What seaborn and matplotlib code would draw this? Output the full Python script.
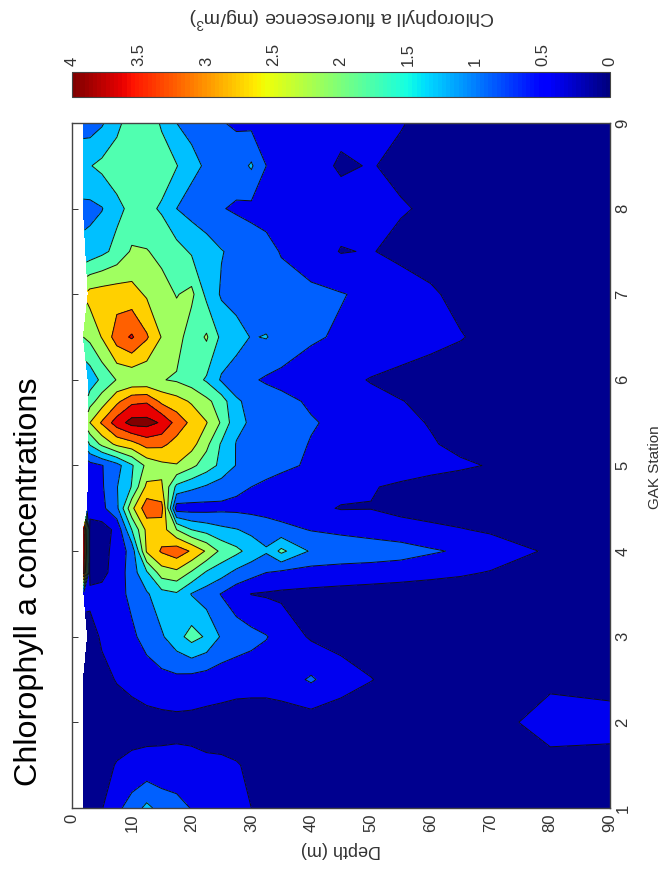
import numpy as np
import matplotlib
matplotlib.use("Agg")
import matplotlib.pyplot as plt
import seaborn as sns
from matplotlib.cm import ScalarMappable
from matplotlib.colors import BoundaryNorm, ListedColormap, Normalize

sns.set_style("white")
plt.rcParams['font.family'] = ['Liberation Sans', 'DejaVu Sans']
plt.rcParams['mathtext.default'] = 'regular'

# Data
stations = [1, 1.5, 2, 2.5, 3, 3.5, 3.75, 4, 4.25, 4.5, 4.75, 5, 5.25, 5.5, 5.75, 6, 6.5, 7, 7.5, 8, 8.5, 9]
depths = [2, 3, 5, 7.5, 10, 12.5, 15, 17.5, 20, 22.5, 25, 27.5, 30, 32.5, 35, 40, 45, 50, 55, 60, 65, 70, 80, 90]
# first sampled depth of each station (the white strip under the surface)
surface_depth = [1.9, 1.9, 1.9, 1.9, 2.6, 2.0, 1.9, 1.9, 1.9, 2.6, 2.7, 2.7, 2.7, 2.7, 2.7, 2.7, 1.9, 2.7, 2.3, 1.9, 1.9, 1.9]
chl = [
    [.2, .25, .38, .7, .98, 1.3, 1.05, .95, .78, .65, .55, .48, .4, .3, .25, .2, .18, .15, .12, .12, .1, .1, .08, .08],
    [.1, .15, .3, .42, .48, .5, .5, .5, .48, .45, .45, .42, .35, .2, .18, .15, .12, .12, .12, .12, .12, .15, .25, .25],
    [.12, .15, .18, .22, .25, .27, .28, .3, .3, .28, .25, .22, .2, .2, .2, .2, .2, .2, .2, .18, .18, .22, .6, .55],
    [.15, .2, .3, .42, .5, .6, .68, .7, .65, .6, .58, .55, .55, .55, .6, .85, .55, .41, .3, .25, .2, .18, .3, .25],
    [.2, .25, .45, .6, .72, .95, 1.15, 1.45, 1.75, 1.55, 1.15, 1.02, .92, .82, .65, .35, .28, .25, .22, .2, .18, .15, .1, .08],
    [.55, .5, .52, .65, .9, 1.15, 1.45, 1.55, 1.18, 1.0, .78, .55, .39, .36, .33, .3, .28, .25, .22, .2, .18, .15, .1, .08],
    [3.4, .25, .3, .55, 1.0, 1.55, 2.2, 2.3, 1.95, 1.55, 1.35, 1.1, .95, .8, .72, .65, .6, .58, .55, .5, .45, .38, .2, .1],
    [3.6, .25, .25, .55, .95, 2.45, 2.85, 3.05, 2.75, 2.35, 1.9, 1.7, 1.45, 1.25, 1.7, 1.15, 1.1, 1.05, .98, .85, .75, .6, .35, .1],
    [3.5, .25, .22, .5, 1.6, 2.5, 2.6, 2.0, 1.6, 1.45, 1.3, 1.22, 1.1, 1.0, .92, .78, .7, .62, .55, .48, .42, .35, .2, .1],
    [.5, .55, .7, 1.1, 2.3, 3.05, 2.95, .6, .62, .65, .7, .7, .68, .65, .6, .48, .38, .39, .3, .25, .2, .15, .1, .06],
    [.55, .6, .75, 1.18, 1.62, 2.5, 2.45, 1.5, 1.3, 1.15, 1.0, .88, .8, .72, .65, .58, .5, .42, .35, .28, .22, .18, .12, .08],
    [.6, .65, .78, 1.05, 1.55, 2.1, 2.3, 2.38, 2.1, 1.8, 1.5, 1.18, 1.05, .95, .88, .75, .68, .62, .55, .5, .45, .38, .2, .08],
    [1.5, 1.65, 2.1, 2.5, 2.65, 2.95, 2.9, 2.65, 2.55, 2.1, 1.55, 1.18, 1.05, 1.0, .95, .78, .7, .63, .55, .43, .32, .25, .15, .08],
    [2.3, 2.4, 2.85, 3.4, 3.75, 3.75, 3.55, 3.05, 2.7, 2.42, 1.95, 1.3, 1.15, 1.05, 1.0, .83, .72, .6, .48, .38, .3, .2, .12, .08],
    [1.7, 1.85, 2.2, 2.7, 3.1, 3.15, 2.7, 2.55, 2.35, 2.1, 1.8, 1.25, 1.1, 1.0, .9, .75, .62, .5, .41, .33, .25, .2, .12, .08],
    [1.3, 1.35, 1.7, 2.02, 2.05, 2.05, 2.02, 1.95, 1.8, 1.55, 1.15, 1.0, .85, .75, .7, .6, .5, .38, .3, .25, .2, .18, .12, .08],
    [2.0, 2.1, 2.42, 3.0, 3.25, 2.85, 2.38, 2.2, 1.75, 2.05, 1.5, 1.35, 1.18, 1.22, 1.05, .85, .75, .68, .6, .5, .42, .3, .18, .1],
    [2.5, 2.55, 2.6, 2.62, 2.55, 2.35, 2.15, 1.98, 2.1, 1.5, 1.15, 1.05, 1.0, .95, .92, .88, .82, .72, .6, .45, .3, .25, .15, .1],
    [1.3, 1.35, 1.5, 1.72, 2.05, 2.02, 1.9, 1.75, 1.55, 1.4, 1.22, 1.1, 1.0, .9, .78, .6, .38, .42, .3, .25, .2, .18, .12, .08],
    [1.1, 1.1, 1.18, 1.5, 1.7, 1.7, 1.55, 1.2, 1.05, .92, .82, .75, .7, .68, .65, .6, .55, .5, .43, .35, .3, .25, .15, .1],
    [1.55, 1.58, 1.7, 1.8, 1.85, 1.85, 1.8, 1.62, 1.3, 1.15, 1.05, 1.0, 1.25, .8, .62, .55, .35, .42, .32, .28, .22, .18, .12, .08],
    [1.0, 1.0, 1.15, 1.5, 1.8, 1.85, 1.55, 1.2, 1.1, .95, .82, .75, .7, .65, .6, .55, .5, .47, .42, .3, .25, .2, .15, .1],
]
levels = [0, .4, .8, 1.2, 1.6, 2.0, 2.4, 2.8, 3.2, 3.6, 4]
band_colors = ['#00008f', '#0000f0', '#0060ff', '#00c0ff', '#50ffb0',
               '#a0ff60', '#ffd000', '#ff6000', '#e80000', '#800000']
depth_ticks = [0, 10, 20, 30, 40, 50, 60, 70, 80, 90]
station_ticks = [1, 2, 3, 4, 5, 6, 7, 8, 9]
cbar_ticks = [0, 0.5, 1, 1.5, 2, 2.5, 3, 3.5, 4]
cbar_labels = ['0', '0.5', '1', '1.5', '2', '2.5', '3', '3.5', '4']

W, H = 668, 871
TXT = '#333333'
fig = plt.figure(figsize=(W / 100, H / 100), dpi=100)

# the whole figure is a matlab plot turned on its side
ax = fig.add_axes([72 / W, 1 - 808 / H, 538 / W, 685 / H])
X, Y = np.meshgrid(depths, stations)
X[:, 0] = surface_depth
Z = np.array(chl)
ax.contourf(X, Y, Z, levels=levels, cmap=ListedColormap(band_colors),
            norm=BoundaryNorm(levels, len(band_colors)))
ax.contour(X, Y, Z, levels=levels[1:-1], colors='#111111', linewidths=0.7)
ax.set_xlim(0, 90)
ax.set_ylim(1, 9)
ax.set_xticks(depth_ticks)
ax.set_yticks(station_ticks)
ax.yaxis.tick_right()
ax.tick_params(axis='both', direction='in', length=4, width=0.7, color=TXT, labelcolor=TXT,
               labelsize=12, top=True, bottom=True, left=True, right=True, pad=4)
ax.set_xticklabels([str(d) for d in depth_ticks], rotation=90)
ax.set_yticklabels([str(s) for s in station_ticks], rotation=90, va='center')
for s in ax.spines.values():
    s.set_color('#444444')
    s.set_linewidth(1.0)

# colorbar along the top, 4 on the left
cax = fig.add_axes([72 / W, 1 - 97 / H, 538 / W, 25 / H])
cmap = plt.get_cmap('jet', 128)
cb = fig.colorbar(ScalarMappable(norm=Normalize(0, 4), cmap=cmap), cax=cax, orientation='horizontal')
cax.invert_xaxis()
cax.xaxis.tick_top()
cb.set_ticks(cbar_ticks)
cb.set_ticklabels(cbar_labels)
cax.tick_params(axis='x', direction='in', length=3, width=0.7, color=TXT, labelcolor=TXT,
                labelsize=12, top=True, bottom=True, pad=4)
plt.setp(cax.get_xticklabels(), rotation=90)
cb.outline.set_edgecolor('#444444')

fig.text(341 / W, 1 - 849 / H, 'Depth (m)', rotation=180, ha='center', va='center', fontsize=13, color=TXT)
fig.text(655 / W, 1 - 467 / H, 'GAK Station', rotation=90, ha='center', va='center', fontsize=11, color=TXT)
fig.text(342 / W, 1 - 18 / H, 'Chlorophyll a fluorescence (mg/m$^3$)', rotation=180, ha='center', va='center',
         fontsize=14, color=TXT)
fig.text(29 / W, 1 - 582 / H, 'Chlorophyll a concentrations', rotation=90, ha='center', va='center',
         fontsize=23.3, color='black')

fig.savefig('out.png', dpi=100)
